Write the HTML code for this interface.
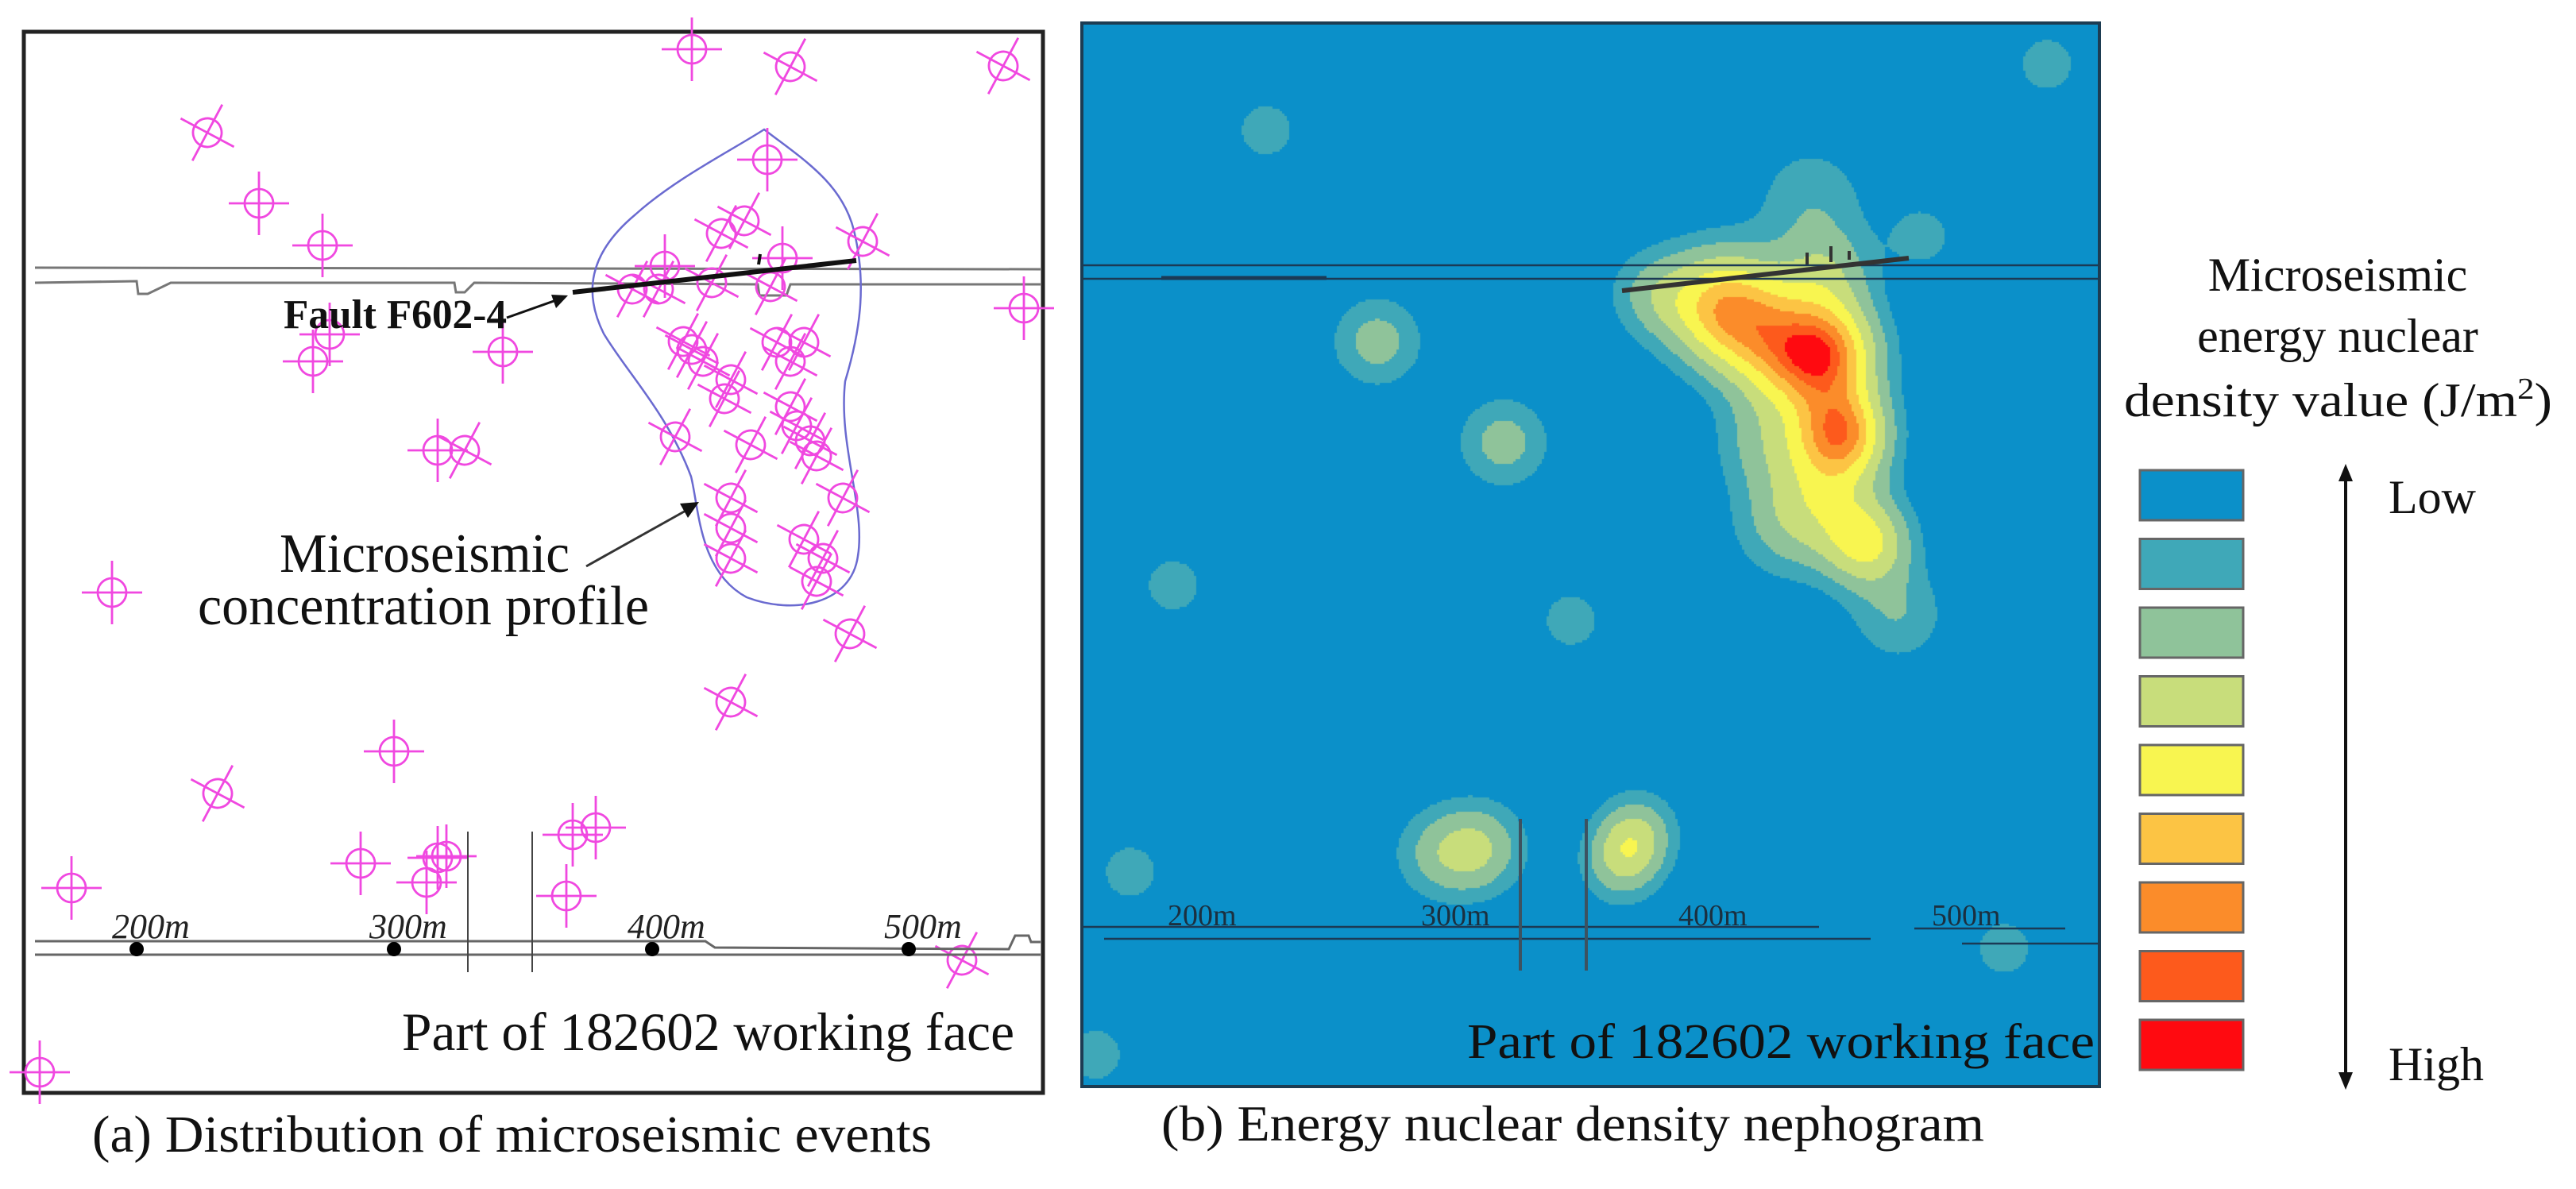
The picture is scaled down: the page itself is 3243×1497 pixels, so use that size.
<!DOCTYPE html>
<html><head><meta charset="utf-8"><style>
html,body{margin:0;padding:0;background:#fff;}
#wrap{position:relative;width:3243px;height:1497px;overflow:hidden;background:#fff;}
#dens{position:absolute;left:1362px;top:29px;}
#ov{position:absolute;left:0;top:0;}
text{font-family:"Liberation Serif",serif;}
</style></head><body>
<div id="wrap">
<canvas id="dens" width="1281" height="1339"></canvas>
<svg id="ov" width="3243" height="1497" viewBox="0 0 3243 1497" xmlns="http://www.w3.org/2000/svg">
<!-- Panel (a) -->
<g id="panelA">
<rect x="30" y="40" width="1283" height="1336" fill="#fff" stroke="#222" stroke-width="5"/>
<g fill="none" stroke="#777" stroke-width="3">
<line x1="44" y1="337" x2="1310" y2="339"/>
<polyline points="44,356 172,354 174,370 186,370 215,356 572,356 574,368 585,368 597,356 954,358 956,372 990,372 995,358 1310,358"/>
</g>
<path id="profile" d="M962,163 C1010,200 1060,230 1075,290 C1092,360 1082,420 1064,480 C1055,560 1090,640 1080,700 C1072,760 1000,775 940,752 C880,720 880,640 870,600 C840,520 790,470 760,420 C735,370 740,320 800,270 C850,225 920,190 962,163 Z" fill="none" stroke="#6a6ad0" stroke-width="2.5"/>
<g id="markers"></g>
<line x1="721" y1="368" x2="1078" y2="328" stroke="#111" stroke-width="6"/>
<line x1="955" y1="333" x2="957" y2="320" stroke="#111" stroke-width="4"/>
<g>
<line x1="638" y1="400" x2="700" y2="378" stroke="#111" stroke-width="3"/>
<polygon points="715,372 694,371 700,388" fill="#111"/>
</g>
<text x="357" y="413" font-size="52" font-weight="bold" textLength="281" lengthAdjust="spacingAndGlyphs" fill="#111">Fault F602-4</text>
<text x="352" y="720" font-size="70" textLength="365" lengthAdjust="spacingAndGlyphs" fill="#111">Microseismic</text>
<text x="249" y="786" font-size="70" textLength="568" lengthAdjust="spacingAndGlyphs" fill="#111">concentration profile</text>
<g>
<line x1="738" y1="713" x2="865" y2="642" stroke="#333" stroke-width="3"/>
<polygon points="880,632 856,634 866,652" fill="#111"/>
</g>
<g fill="none" stroke="#666" stroke-width="3">
<polyline points="44,1185 888,1185 900,1193 1270,1195 1278,1178 1295,1178 1298,1186 1310,1186"/>
<line x1="44" y1="1202" x2="1310" y2="1202"/>
<line x1="589" y1="1047" x2="589" y2="1224" stroke="#444" stroke-width="2"/>
<line x1="670" y1="1047" x2="670" y2="1224" stroke="#444" stroke-width="2"/>
</g>
<g id="distA"></g>
<text x="506" y="1322" font-size="68" textLength="771" lengthAdjust="spacingAndGlyphs" fill="#111">Part of 182602 working face</text>
</g>
<text x="116" y="1450" font-size="66" textLength="1057" lengthAdjust="spacingAndGlyphs" fill="#111">(a) Distribution of microseismic events</text>

<!-- Panel (b) overlay -->
<g id="panelB">
<g fill="none" stroke="#1b3a55" stroke-width="2.5">
<line x1="1362" y1="334" x2="2643" y2="334"/>
<line x1="1362" y1="351" x2="2643" y2="351"/>
<line x1="1462" y1="350" x2="1670" y2="350" stroke-width="5"/>
<line x1="1362" y1="1167" x2="2290" y2="1167"/>
<line x1="1390" y1="1182" x2="2355" y2="1182"/>
<line x1="2410" y1="1169" x2="2600" y2="1169"/>
<line x1="2470" y1="1188" x2="2643" y2="1188"/>
</g>
<line x1="2042" y1="366" x2="2403" y2="325" stroke="#333" stroke-width="6"/>
<g stroke="#333" stroke-width="4"><line x1="2275" y1="333" x2="2275" y2="318"/><line x1="2305" y1="330" x2="2305" y2="310"/><line x1="2328" y1="327" x2="2328" y2="316"/></g>
<line x1="1914" y1="1031" x2="1914" y2="1222" stroke="#3d5260" stroke-width="4"/>
<line x1="1997" y1="1031" x2="1997" y2="1222" stroke="#3d5260" stroke-width="4"/>
<g id="distB"></g>
<text x="1847" y="1332" font-size="62" textLength="790" lengthAdjust="spacingAndGlyphs" fill="#111">Part of 182602 working face</text>
<rect x="1362" y="29" width="1281" height="1339" fill="none" stroke="#1d3c52" stroke-width="4"/>
</g>
<text x="1462" y="1436" font-size="64" textLength="1036" lengthAdjust="spacingAndGlyphs" fill="#111">(b) Energy nuclear density nephogram</text>

<!-- Legend -->
<g id="legend">
<text x="2943" y="366" font-size="60" text-anchor="middle" fill="#111">Microseismic</text>
<text x="2943" y="443" font-size="60" text-anchor="middle" fill="#111">energy nuclear</text>
<text x="2674" y="524" font-size="60" textLength="539" lengthAdjust="spacingAndGlyphs" fill="#111">density value (J/m<tspan font-size="38" dy="-22">2</tspan><tspan dy="22">)</tspan></text>
<g id="legendBoxes"></g>
<line x1="2953" y1="605" x2="2953" y2="1352" stroke="#111" stroke-width="4"/>
<polygon points="2953,584 2944,606 2962,606" fill="#111"/>
<polygon points="2953,1372 2944,1350 2962,1350" fill="#111"/>
<text x="3007" y="646" font-size="60" fill="#111">Low</text>
<text x="3007" y="1360" font-size="60" fill="#111">High</text>
</g>
</svg>
</div>
<script>
// ----- Panel (a): microseismic events -----
const eventX = [871,995,1263,261,326,406,966,937,908,1086,985,837,796,829,896,970,1289,415,394,633,871,860,885,978,1012,995,920,912,995,1003,1020,850,551,585,945,1028,1061,920,920,920,1012,1036,1028,141,1070,920,496,274,90,454,537,551,562,721,750,713,1211,50];
const eventY = [62,84,83,167,256,309,201,278,294,304,325,335,364,364,356,361,388,421,455,443,440,430,455,431,431,455,478,502,512,536,555,550,567,567,560,574,627,627,665,703,679,703,732,746,798,884,946,999,1118,1087,1111,1080,1078,1051,1042,1128,1209,1350];
const eventKind = [0,1,1,1,0,0,0,1,1,1,0,0,1,1,1,1,0,0,0,0,1,1,1,1,1,1,1,1,1,1,1,1,0,1,1,1,1,1,1,1,1,1,1,0,1,1,0,1,0,0,0,0,0,0,0,0,1,0];
const distLabels = ["200m","300m","400m","500m"];
const distA = [172,496,821,1144];
const distB = [1470,1789,2113,2432];

const NS = "http://www.w3.org/2000/svg";
const mg = document.getElementById("markers");
for (let i = 0; i < eventX.length; i++) {
  const g = document.createElementNS(NS, "g");
  
  
  const rot = eventKind[i] ? 28 : 0;
  g.setAttribute("transform", `translate(${eventX[i]},${eventY[i]}) rotate(${rot})`);
  g.setAttribute("stroke", "#f048e0");
  g.setAttribute("stroke-width", "2.8");
  g.setAttribute("fill", "none");
  g.innerHTML = '<circle r="18"/><line x1="-38" y1="0" x2="38" y2="0"/><line x1="0" y1="-40" x2="0" y2="40"/>';
  mg.appendChild(g);
}
const dA = document.getElementById("distA");
for (let i = 0; i < distA.length; i++) {
  const c = document.createElementNS(NS, "circle");
  
  
  c.setAttribute("cx", distA[i]); c.setAttribute("cy", 1195); c.setAttribute("r", 9); c.setAttribute("fill", "#000");
  dA.appendChild(c);
  const t = document.createElementNS(NS, "text");
  
  
  t.setAttribute("x", distA[i] - 31); t.setAttribute("y", 1181);
  t.setAttribute("font-size", "44"); t.setAttribute("font-style", "italic"); t.setAttribute("fill", "#222");
  t.textContent = distLabels[i];
  dA.appendChild(t);
}
const dB = document.getElementById("distB");
for (let i = 0; i < distB.length; i++) {
  const t = document.createElementNS(NS, "text");
  
  
  t.setAttribute("x", distB[i]); t.setAttribute("y", 1165);
  t.setAttribute("font-size", "38"); t.setAttribute("fill", "#1b3040");
  t.textContent = distLabels[i];
  dB.appendChild(t);
}

// ----- Legend -----
const levelColors = ["#0b90c9","#3fa8b8","#8fc39a","#c8dd7b","#f8f550","#fcc444","#fb8c2a","#fd5a1c","#ff0a10"];
const lb = document.getElementById("legendBoxes");
for (let i = 0; i < levelColors.length; i++) {
  const r = document.createElementNS(NS, "rect");
  
  
  r.setAttribute("x", 2694); r.setAttribute("y", 592 + i * 86.5);
  r.setAttribute("width", 130); r.setAttribute("height", 63);
  r.setAttribute("fill", levelColors[i]); r.setAttribute("stroke", "#666"); r.setAttribute("stroke-width", "3");
  lb.appendChild(r);
}

// ----- Panel (b): kernel density -----
const kernelX = [1594,2577,1734,1893,1477,1978,1423,2523,1379, 1810,1862, 2040,2062,2050, 2300,2318,2165,2215,2250,2280,2420,2300,2350,2300,2250,2390,2220,2080];
const kernelY = [164,81,430,557,737,781,1098,1194,1328, 1076,1068, 1092,1045,1068, 445,545,385,410,460,250,297,345,685,620,660,775,560,370];
const kernelW = [0.8,0.8,1.16,1.16,0.8,0.8,0.8,0.8,0.8, 0.9,1.4, 1.0,1.1,0.7, 3.2,3.4,2.6,1.5,1.5,0.75,0.7,1.2,2.2,1.3,1.0,0.85,0.9,0.9];
const kernelS = [28,28,39,39,28,28,28,28,28, 40,40, 35,35,30, 45,40,50,50,50,50,30,42,38,48,48,42,42,38];
const thresholds = [0.45,0.9,1.5,2.2,2.9,3.5,4.05,4.45];

const cv = document.getElementById("dens");
const ctx = cv.getContext("2d");
const W = cv.width, H = cv.height, step = 3, ox = 1362, oy = 29;
ctx.fillStyle = levelColors[0]; ctx.fillRect(0, 0, W, H);
for (let y = 0; y < H; y += step) {
  for (let x = 0; x < W; x += step) {
    const px = x + ox + step / 2, py = y + oy + step / 2;
    let d = 0;
    for (let k = 0; k < kernelX.length; k++) {
      const dx = px - kernelX[k], dy = py - kernelY[k];
      const s2 = 2 * kernelS[k] * kernelS[k];
      const q = (dx * dx + dy * dy) / s2;
      if (q < 12) d += kernelW[k] * Math.exp(-q);
    }
    let lv = 0;
    while (lv < thresholds.length && d >= thresholds[lv]) lv++;
    if (lv > 0) { ctx.fillStyle = levelColors[lv]; ctx.fillRect(x, y, step, step); }
  }
}
</script>
</body></html>
